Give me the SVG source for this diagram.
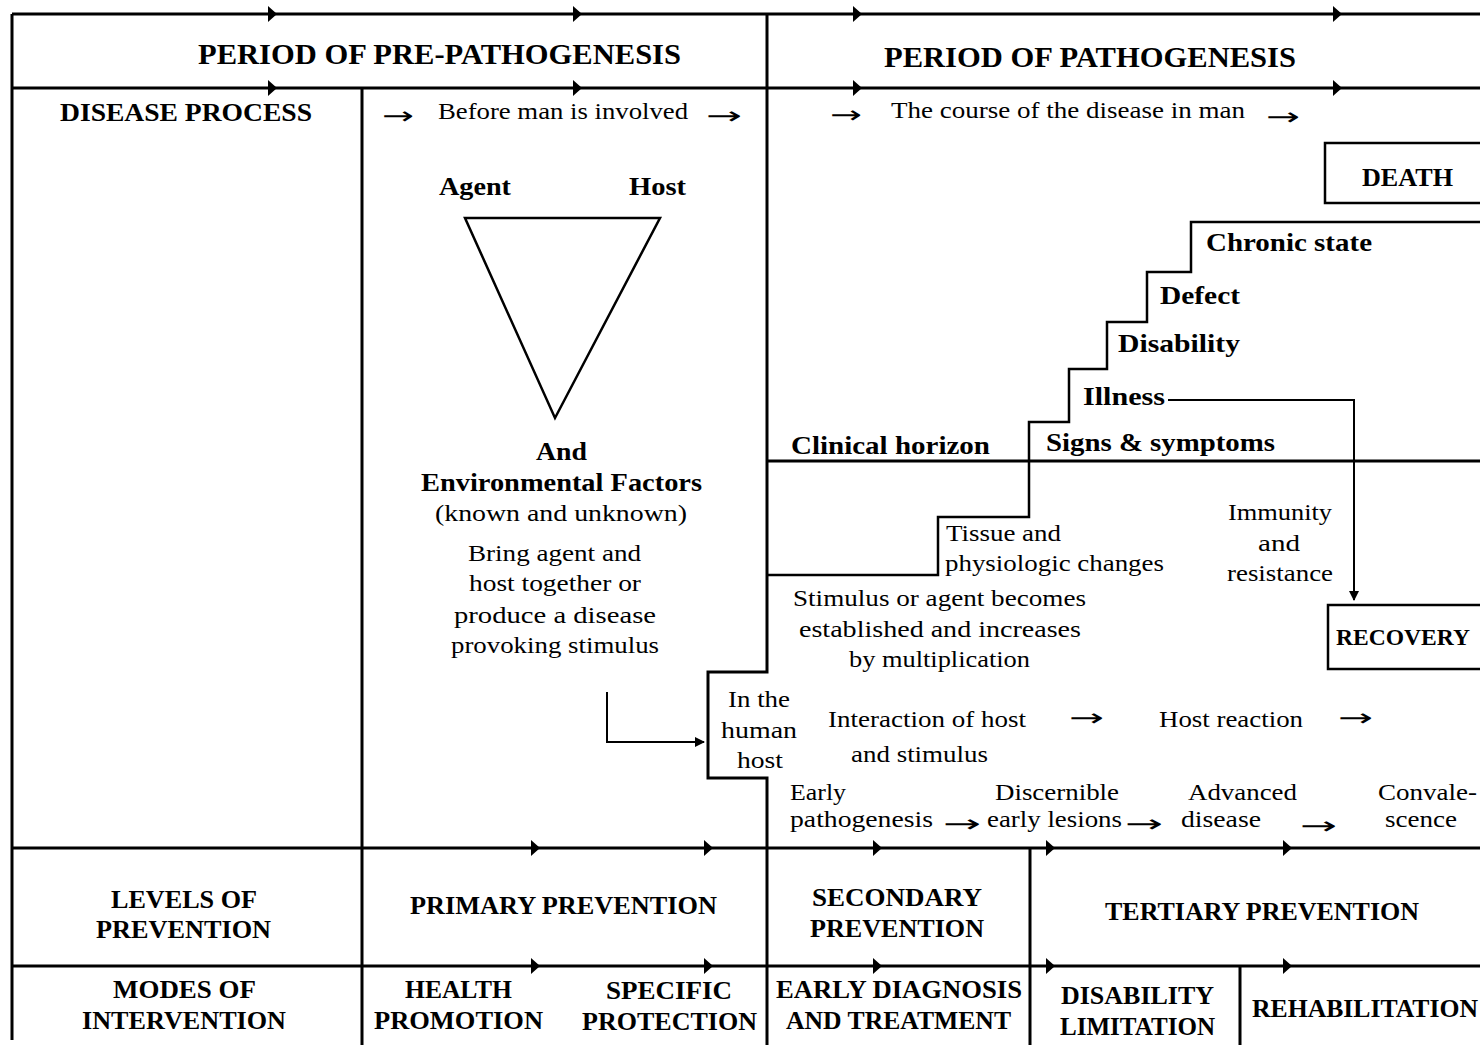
<svg xmlns="http://www.w3.org/2000/svg" xmlns:xlink="http://www.w3.org/1999/xlink" width="1480" height="1045" viewBox="0 0 1480 1045">
<style>
.b{font-family:"Liberation Serif",serif;font-weight:bold;font-size:26px;fill:#000}
.h{font-family:"Liberation Serif",serif;font-weight:bold;font-size:29px;fill:#000}
.r{font-family:"Liberation Serif",serif;font-size:24px;fill:#000}
.a{font-family:"DejaVu Sans",sans-serif;font-size:24px;fill:#000}
.ln{stroke:#000;stroke-width:3;fill:none}
.st{stroke:#000;stroke-width:2.5;fill:none}
.th{stroke:#000;stroke-width:2;fill:none}
</style>
<defs>
<path id="ah" d="M-4,-8 L5,0 L-4,8 Z" fill="#000"/>
<marker id="tipR" viewBox="0 0 10 10" refX="9" refY="5" markerWidth="10" markerHeight="10" markerUnits="userSpaceOnUse" orient="auto"><path d="M0,0 L10,5 L0,10 Z" fill="#000"/></marker>
</defs>
<rect width="1480" height="1045" fill="#fff"/>

<g id="grid">
<path class="ln" d="M12,14 H1480 M12,88 H1480 M12,14 V1040 M362,88 V1045 M767,14 V672 H708 V778 H767 V1045 M12,848 H1480 M12,966 H1480 M1030,848 V1045 M1240,966 V1045"/>
<use xlink:href="#ah" x="272" y="14"/><use xlink:href="#ah" x="577" y="14"/><use xlink:href="#ah" x="857" y="14"/><use xlink:href="#ah" x="1337" y="14"/>
<use xlink:href="#ah" x="272" y="88"/><use xlink:href="#ah" x="577" y="88"/><use xlink:href="#ah" x="857" y="88"/><use xlink:href="#ah" x="1337" y="88"/>
<use xlink:href="#ah" x="535" y="848"/><use xlink:href="#ah" x="708" y="848"/><use xlink:href="#ah" x="877" y="848"/><use xlink:href="#ah" x="1050" y="848"/><use xlink:href="#ah" x="1287" y="848"/>
<use xlink:href="#ah" x="535" y="966"/><use xlink:href="#ah" x="708" y="966"/><use xlink:href="#ah" x="877" y="966"/><use xlink:href="#ah" x="1050" y="966"/><use xlink:href="#ah" x="1287" y="966"/>
</g>

<g id="headers">
<text class="h" x="198" y="64" textLength="483" lengthAdjust="spacingAndGlyphs">PERIOD OF PRE-PATHOGENESIS</text>
<text class="h" x="884" y="67" textLength="412" lengthAdjust="spacingAndGlyphs">PERIOD OF PATHOGENESIS</text>
<text class="b" x="60" y="121" textLength="252" lengthAdjust="spacingAndGlyphs">DISEASE PROCESS</text>
</g>

<g id="before-man">
<text class="a" x="382" y="124" textLength="32" lengthAdjust="spacingAndGlyphs">→</text>
<text class="r" x="438" y="119" textLength="250" lengthAdjust="spacingAndGlyphs">Before man is involved</text>
<text class="a" x="706" y="124" textLength="36" lengthAdjust="spacingAndGlyphs">→</text>
</g>

<g id="course-in-man">
<text class="a" x="830" y="123" textLength="32" lengthAdjust="spacingAndGlyphs">→</text>
<text class="r" x="891" y="118" textLength="354" lengthAdjust="spacingAndGlyphs">The course of the disease in man</text>
<text class="a" x="1266" y="125" textLength="34" lengthAdjust="spacingAndGlyphs">→</text>
</g>

<g id="triad">
<text class="b" x="439" y="195" textLength="72" lengthAdjust="spacingAndGlyphs">Agent</text>
<text class="b" x="629" y="195" textLength="57" lengthAdjust="spacingAndGlyphs">Host</text>
<polygon class="st" points="465,218 660,218 555,418"/>
<text class="b" x="536" y="460" textLength="51" lengthAdjust="spacingAndGlyphs">And</text>
<text class="b" x="421" y="491" textLength="281" lengthAdjust="spacingAndGlyphs">Environmental Factors</text>
<text class="r" x="435" y="521" textLength="252" lengthAdjust="spacingAndGlyphs">(known  and unknown)</text>
<text class="r" x="468" y="561" textLength="173" lengthAdjust="spacingAndGlyphs">Bring agent and</text>
<text class="r" x="469" y="591" textLength="172" lengthAdjust="spacingAndGlyphs">host together or</text>
<text class="r" x="454" y="623" textLength="202" lengthAdjust="spacingAndGlyphs">produce  a disease</text>
<text class="r" x="451" y="653" textLength="208" lengthAdjust="spacingAndGlyphs">provoking stimulus</text>
</g>

<g id="staircase">
<path class="ln" d="M767,461 H1480"/>
<path class="st" d="M767,575 H938 V517 H1029 V422 H1069 V369 H1107 V322 H1147 V272 H1191 V222 H1480"/>
<text class="b" x="791" y="454" textLength="199" lengthAdjust="spacingAndGlyphs">Clinical horizon</text>
<text class="b" x="1046" y="451" textLength="229" lengthAdjust="spacingAndGlyphs">Signs &amp; symptoms</text>
<text class="b" x="1083" y="405" textLength="82" lengthAdjust="spacingAndGlyphs">Illness</text>
<text class="b" x="1118" y="352" textLength="122" lengthAdjust="spacingAndGlyphs">Disability</text>
<text class="b" x="1160" y="304" textLength="80" lengthAdjust="spacingAndGlyphs">Defect</text>
<text class="b" x="1206" y="251" textLength="166" lengthAdjust="spacingAndGlyphs">Chronic state</text>
</g>

<g id="death">
<path class="st" d="M1480,143 H1325 V203 H1480"/>
<text class="b" x="1362" y="186" textLength="91" lengthAdjust="spacingAndGlyphs">DEATH</text>
</g>

<g id="recovery">
<path class="st" d="M1480,605 H1328 V669 H1480"/>
<text class="b" x="1336" y="645" style="font-size:23px" textLength="134" lengthAdjust="spacingAndGlyphs">RECOVERY</text>
</g>

<g id="immunity">
<text class="r" x="1228" y="520" textLength="104" lengthAdjust="spacingAndGlyphs">Immunity</text>
<text class="r" x="1258" y="551" textLength="42" lengthAdjust="spacingAndGlyphs">and</text>
<text class="r" x="1227" y="581" textLength="106" lengthAdjust="spacingAndGlyphs">resistance</text>
</g>

<g id="tissue">
<text class="r" x="946" y="541" textLength="115" lengthAdjust="spacingAndGlyphs">Tissue and</text>
<text class="r" x="945" y="571" textLength="219" lengthAdjust="spacingAndGlyphs">physiologic changes</text>
</g>

<g id="stimulus">
<text class="r" x="793" y="606" textLength="293" lengthAdjust="spacingAndGlyphs">Stimulus or agent becomes</text>
<text class="r" x="799" y="637" textLength="282" lengthAdjust="spacingAndGlyphs">established  and increases</text>
<text class="r" x="849" y="667" textLength="181" lengthAdjust="spacingAndGlyphs">by multiplication</text>
</g>

<g id="human-host">
<text class="r" x="728" y="707" textLength="62" lengthAdjust="spacingAndGlyphs">In the</text>
<text class="r" x="721" y="738" textLength="76" lengthAdjust="spacingAndGlyphs">human</text>
<text class="r" x="737" y="768" textLength="46" lengthAdjust="spacingAndGlyphs">host</text>
</g>

<g id="interaction">
<text class="r" x="828" y="727" textLength="198" lengthAdjust="spacingAndGlyphs">Interaction of host</text>
<text class="r" x="851" y="762" textLength="137" lengthAdjust="spacingAndGlyphs">and stimulus</text>
<text class="a" x="1069" y="726" textLength="35" lengthAdjust="spacingAndGlyphs">→</text>
<text class="r" x="1159" y="727" textLength="144" lengthAdjust="spacingAndGlyphs">Host reaction</text>
<text class="a" x="1338" y="726" textLength="35" lengthAdjust="spacingAndGlyphs">→</text>
</g>

<g id="stages">
<text class="r" x="790" y="800" textLength="56" lengthAdjust="spacingAndGlyphs">Early</text>
<text class="r" x="790" y="827" textLength="143" lengthAdjust="spacingAndGlyphs">pathogenesis</text>
<text class="a" x="943" y="832" textLength="38" lengthAdjust="spacingAndGlyphs">→</text>
<text class="r" x="995" y="800" textLength="124" lengthAdjust="spacingAndGlyphs">Discernible</text>
<text class="r" x="987" y="827" textLength="135" lengthAdjust="spacingAndGlyphs">early lesions</text>
<text class="a" x="1125" y="832" textLength="38" lengthAdjust="spacingAndGlyphs">→</text>
<text class="r" x="1188" y="800" textLength="109" lengthAdjust="spacingAndGlyphs">Advanced</text>
<text class="r" x="1181" y="827" textLength="80" lengthAdjust="spacingAndGlyphs">disease</text>
<text class="a" x="1300" y="834" textLength="37" lengthAdjust="spacingAndGlyphs">→</text>
<text class="r" x="1378" y="800" textLength="99" lengthAdjust="spacingAndGlyphs">Convale-</text>
<text class="r" x="1385" y="827" textLength="72" lengthAdjust="spacingAndGlyphs">scence</text>
</g>

<g id="connectors">
<path class="th" d="M1168,400 H1354 V600" marker-end="url(#tipR)"/>
<path class="th" d="M607,692 V742 H704" marker-end="url(#tipR)"/>
</g>

<g id="levels">
<text class="b" x="111" y="908" textLength="146" lengthAdjust="spacingAndGlyphs">LEVELS OF</text>
<text class="b" x="96" y="938" textLength="175" lengthAdjust="spacingAndGlyphs">PREVENTION</text>
</g>
<g id="primary">
<text class="b" x="410" y="914" textLength="307" lengthAdjust="spacingAndGlyphs">PRIMARY PREVENTION</text>
</g>
<g id="secondary">
<text class="b" x="812" y="906" textLength="170" lengthAdjust="spacingAndGlyphs">SECONDARY</text>
<text class="b" x="810" y="937" textLength="174" lengthAdjust="spacingAndGlyphs">PREVENTION</text>
</g>
<g id="tertiary">
<text class="b" x="1105" y="920" textLength="314" lengthAdjust="spacingAndGlyphs">TERTIARY PREVENTION</text>
</g>
<g id="modes">
<text class="b" x="113" y="998" textLength="143" lengthAdjust="spacingAndGlyphs">MODES OF</text>
<text class="b" x="82" y="1029" textLength="204" lengthAdjust="spacingAndGlyphs">INTERVENTION</text>
</g>
<g id="health-promotion">
<text class="b" x="405" y="998" textLength="107" lengthAdjust="spacingAndGlyphs">HEALTH</text>
<text class="b" x="374" y="1029" textLength="169" lengthAdjust="spacingAndGlyphs">PROMOTION</text>
</g>
<g id="specific-protection">
<text class="b" x="606" y="999" textLength="126" lengthAdjust="spacingAndGlyphs">SPECIFIC</text>
<text class="b" x="582" y="1030" textLength="175" lengthAdjust="spacingAndGlyphs">PROTECTION</text>
</g>
<g id="early-diagnosis">
<text class="b" x="776" y="998" textLength="246" lengthAdjust="spacingAndGlyphs">EARLY DIAGNOSIS</text>
<text class="b" x="786" y="1029" textLength="225" lengthAdjust="spacingAndGlyphs">AND TREATMENT</text>
</g>
<g id="disability-limitation">
<text class="b" x="1061" y="1004" textLength="153" lengthAdjust="spacingAndGlyphs">DISABILITY</text>
<text class="b" x="1060" y="1035" textLength="155" lengthAdjust="spacingAndGlyphs">LIMITATION</text>
</g>
<g id="rehabilitation">
<text class="b" x="1252" y="1017" textLength="226" lengthAdjust="spacingAndGlyphs">REHABILITATION</text>
</g>
</svg>
